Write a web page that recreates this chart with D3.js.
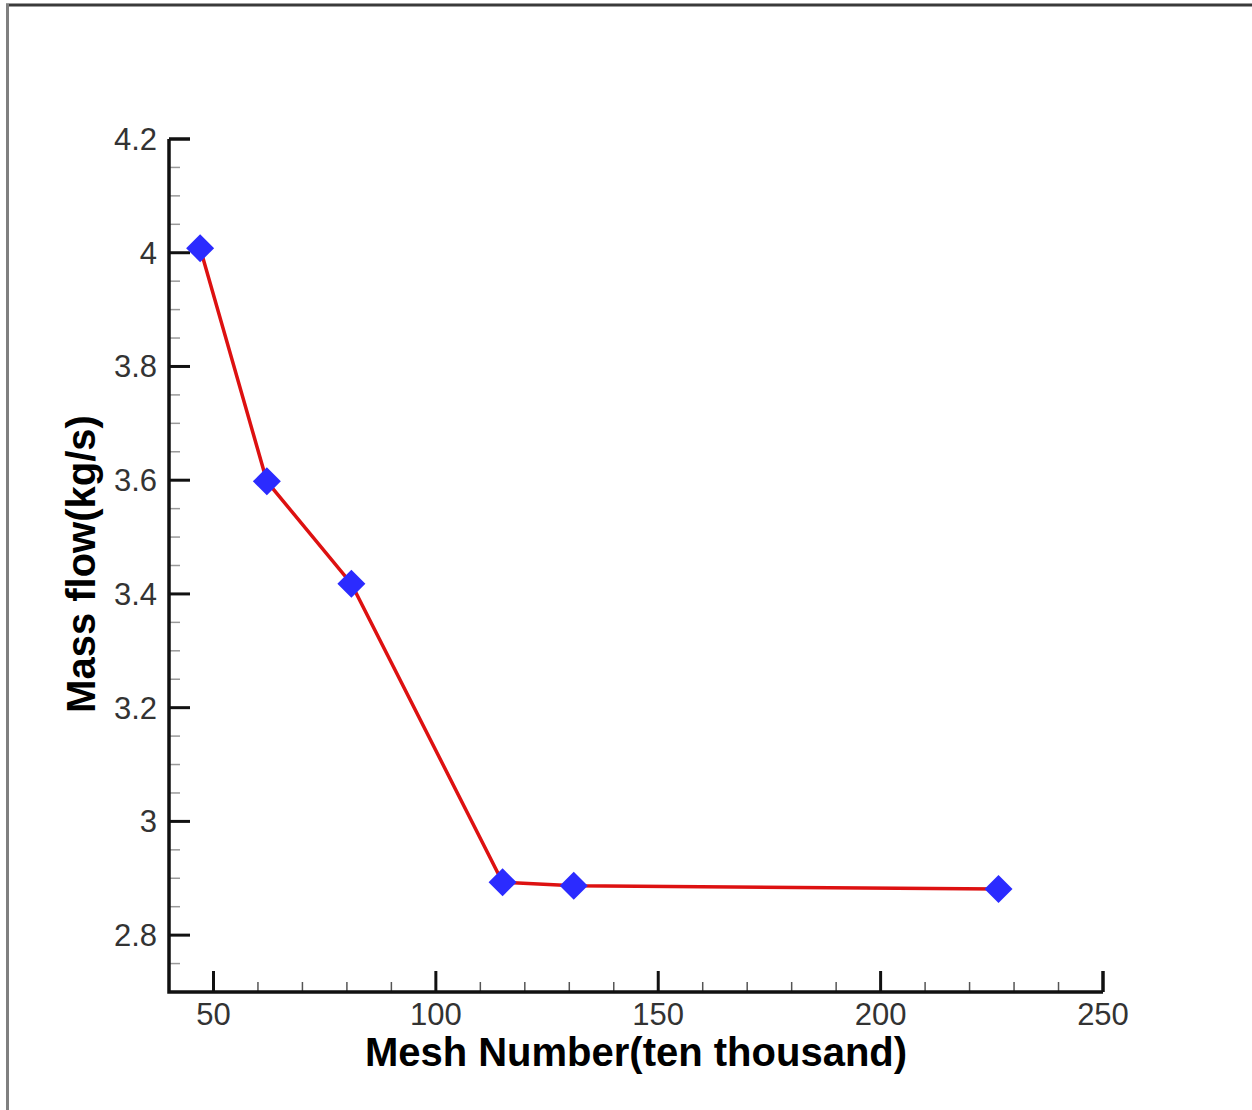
<!DOCTYPE html>
<html><head><meta charset="utf-8">
<script src="https://cdn.jsdelivr.net/npm/d3@7"></script>
<style>
html,body{margin:0;padding:0;background:#fff;}
svg{display:block;}
</style></head>
<body>
<script>
const meshNumber = [47, 62, 81, 115, 131, 226.5];
const massFlow = [4.008, 3.598, 3.418, 2.893, 2.887, 2.881];
const xTickValues = [50, 100, 150, 200, 250];
const yTickValues = [2.8, 3, 3.2, 3.4, 3.6, 3.8, 4, 4.2];
const yTickLabels = ["2.8", "3", "3.2", "3.4", "3.6", "3.8", "4", "4.2"];
const xTitle = "Mesh Number(ten thousand)";
const yTitle = "Mass flow(kg/s)";

const W = 1252, H = 1110;
const svg = d3.select("body").append("svg").attr("width", W).attr("height", H);

svg.append("line").attr("x1", 6).attr("x2", W).attr("y1", 5).attr("y2", 5)
  .attr("stroke", "#3a3a3a").attr("stroke-width", 3);
svg.append("line").attr("x1", 7.5).attr("x2", 7.5).attr("y1", 4).attr("y2", H)
  .attr("stroke", "#808080").attr("stroke-width", 3);

const x = d3.scaleLinear().domain([40, 250]).range([169, 1103]);
const y = d3.scaleLinear().domain([2.7, 4.2]).range([992, 139]);

const g = svg.append("g");

const xMinor = d3.range(40, 251, 10).filter(v => v % 50 !== 0);
g.selectAll(".xmin").data(xMinor).enter().append("line")
  .attr("x1", d => x(d)).attr("x2", d => x(d))
  .attr("y1", y(2.7)).attr("y2", y(2.7) - 10)
  .attr("stroke", "#555").attr("stroke-width", 1.5);
g.selectAll(".xmaj").data(xTickValues).enter().append("line")
  .attr("x1", d => x(d)).attr("x2", d => x(d))
  .attr("y1", y(2.7)).attr("y2", y(2.7) - 21)
  .attr("stroke", "#111").attr("stroke-width", 3);
g.selectAll(".xlab").data(xTickValues).enter().append("text")
  .attr("x", d => x(d)).attr("y", 1025)
  .attr("text-anchor", "middle")
  .attr("font-family", "Liberation Sans, Arial, sans-serif")
  .attr("font-size", 31).attr("fill", "#333")
  .text(d => d);

const yMinor = d3.range(2.75, 4.2, 0.05).filter(v => Math.abs(Math.round(v * 5) - v * 5) > 1e-6);
g.selectAll(".ymin").data(yMinor).enter().append("line")
  .attr("x1", x(40)).attr("x2", x(40) + 11)
  .attr("y1", d => y(d)).attr("y2", d => y(d))
  .attr("stroke", "#9a9a9a").attr("stroke-width", 1.5);
g.selectAll(".ymaj").data(yTickValues).enter().append("line")
  .attr("x1", x(40)).attr("x2", x(40) + 21)
  .attr("y1", d => y(d)).attr("y2", d => y(d))
  .attr("stroke", "#111").attr("stroke-width", 3);
g.selectAll(".ylab").data(yTickValues).enter().append("text")
  .attr("x", 157).attr("y", d => y(d) + 11)
  .attr("text-anchor", "end")
  .attr("font-family", "Liberation Sans, Arial, sans-serif")
  .attr("font-size", 31).attr("fill", "#333")
  .text((d, i) => yTickLabels[i]);

g.append("path")
  .attr("d", `M${x(40)},${y(4.2)}L${x(40)},${y(2.7)}L${x(250)},${y(2.7)}`)
  .attr("fill", "none").attr("stroke", "#111").attr("stroke-width", 3.5)
  .attr("stroke-linejoin", "miter");
g.append("line").attr("x1", x(40)).attr("x2", x(40) + 21)
  .attr("y1", y(4.2)).attr("y2", y(4.2)).attr("stroke", "#111").attr("stroke-width", 3);
g.append("line").attr("x1", x(250)).attr("x2", x(250))
  .attr("y1", y(2.7)).attr("y2", y(2.7) - 21).attr("stroke", "#111").attr("stroke-width", 3);

svg.append("text").attr("x", 636).attr("y", 1066)
  .attr("text-anchor", "middle")
  .attr("font-family", "Liberation Sans, Arial, sans-serif")
  .attr("font-weight", "bold").attr("font-size", 40).attr("fill", "#000")
  .text(xTitle);
svg.append("text")
  .attr("transform", "translate(95,564) rotate(-90)")
  .attr("text-anchor", "middle")
  .attr("font-family", "Liberation Sans, Arial, sans-serif")
  .attr("font-weight", "bold").attr("font-size", 40).attr("fill", "#000")
  .text(yTitle);

const pts = meshNumber.map((m, i) => [m, massFlow[i]]);
svg.append("path").datum(pts)
  .attr("d", d3.line().x(d => x(d[0])).y(d => y(d[1])))
  .attr("fill", "none").attr("stroke", "#dd1111").attr("stroke-width", 3.5);

svg.selectAll(".mk").data(pts).enter().append("path")
  .attr("transform", d => `translate(${x(d[0])},${y(d[1])})`)
  .attr("d", "M0,-14L14,0L0,14L-14,0Z")
  .attr("fill", "#2b2bff");
</script>
</body></html>
